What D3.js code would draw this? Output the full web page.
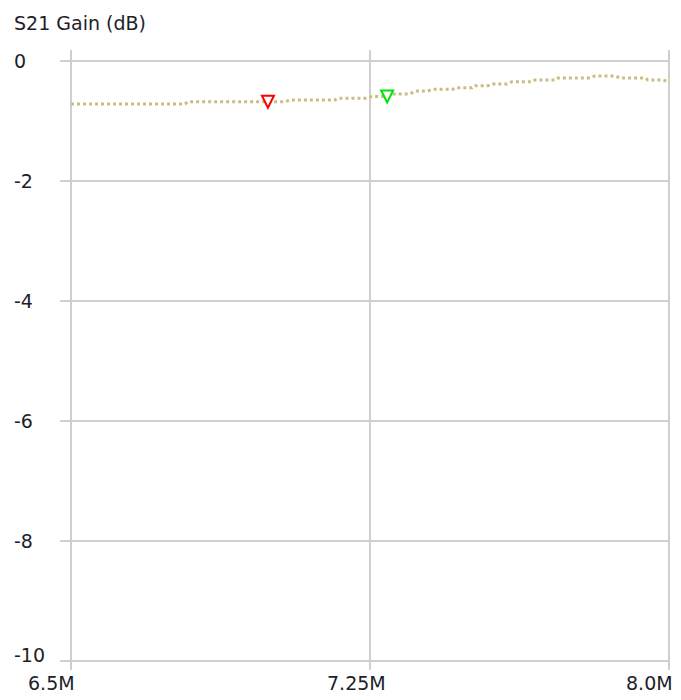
<!DOCTYPE html>
<html>
<head>
<meta charset="utf-8">
<script src="https://cdn.jsdelivr.net/npm/d3@7"></script>
<style>
  html, body { margin: 0; padding: 0; background: #fff; }
  svg { display: block; }
  text { font-family: "DejaVu Sans", Verdana, sans-serif; font-size: 19px; fill: #1e1e2a; }
</style>
</head>
<body>
<svg id="chart" width="681" height="700"></svg>
<script>
const titleText = "S21 Gain (dB)";
const yTicks = [0, -2, -4, -6, -8, -10];
const xTicks = [6.5, 7.25, 8.0];
const xTickLabels = ["6.5M", "7.25M", "8.0M"];

const freqMHz = [6.5, 6.786, 6.793, 7.037, 7.049, 7.162, 7.170, 7.242, 7.255, 7.288,
  7.305, 7.350, 7.363, 7.395, 7.408, 7.458, 7.468, 7.506, 7.513, 7.546,
  7.559, 7.594, 7.606, 7.656, 7.664, 7.714, 7.722, 7.802, 7.814, 7.865,
  7.877, 7.940, 7.947, 7.985, 8.0];
const gainDb = [-0.717, -0.717, -0.678, -0.678, -0.65, -0.65, -0.622, -0.622, -0.592, -0.592,
  -0.55, -0.55, -0.50, -0.50, -0.472, -0.472, -0.445, -0.445, -0.412, -0.412,
  -0.383, -0.383, -0.345, -0.345, -0.317, -0.317, -0.283, -0.283, -0.25, -0.25,
  -0.283, -0.283, -0.317, -0.317, -0.345];

const markerFreq = [6.994, 7.293];
const markerGain = [-0.68, -0.59];
const markerColor = ["#ff0000", "#00e600"];

const svg = d3.select("#chart");
const x = d3.scaleLinear().domain([6.5, 8.0]).range([71, 669]);
const y = d3.scaleLinear().domain([-10, 0]).range([661, 61]);

const grid = "#cfcfcf";

// horizontal gridlines
svg.append("g").selectAll("line").data(yTicks).join("line")
  .attr("x1", 60).attr("x2", x(8.0))
  .attr("y1", d => y(d)).attr("y2", d => y(d))
  .attr("stroke", grid).attr("stroke-width", 2);

// vertical gridlines
svg.append("g").selectAll("line").data(xTicks).join("line")
  .attr("x1", d => x(d)).attr("x2", d => x(d))
  .attr("y1", 50).attr("y2", 670)
  .attr("stroke", grid).attr("stroke-width", 2);

// title
svg.append("text").attr("x", 14).attr("y", 30).text(titleText);

// y labels
svg.append("g").selectAll("text").data(yTicks).join("text")
  .attr("x", 14)
  .attr("y", d => d === -10 ? y(d) + 1 : y(d) + 7)
  .text(d => d);

// x labels
svg.append("g").selectAll("text").data(xTicks).join("text")
  .attr("x", d => x(d) - 43)
  .attr("y", 690)
  .text((d, i) => xTickLabels[i]);

// data line
const pts = freqMHz.map((f, i) => [f, gainDb[i]]);
svg.append("path").datum(pts)
  .attr("d", d3.line().x(d => x(d[0])).y(d => y(d[1])))
  .attr("fill", "none")
  .attr("stroke", "#c9bd86")
  .attr("stroke-width", 3)
  .attr("stroke-dasharray", "3,3");

// markers
svg.append("g").selectAll("path").data(markerFreq).join("path")
  .attr("d", (f, i) => {
    const cx = x(f), cy = y(markerGain[i]);
    return `M${cx - 6},${cy - 6}L${cx + 6},${cy - 6}L${cx},${cy + 6}Z`;
  })
  .attr("fill", "#fff")
  .attr("stroke", (f, i) => markerColor[i])
  .attr("stroke-width", 2);
</script>
</body>
</html>
